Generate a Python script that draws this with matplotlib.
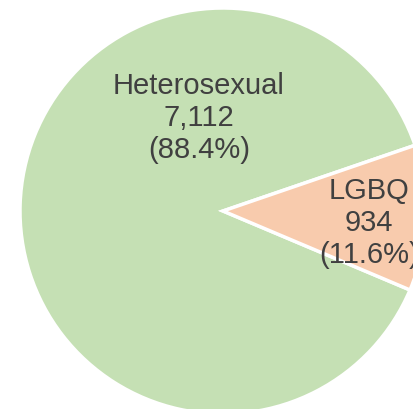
import numpy as np
import matplotlib.pyplot as plt

categories = ["Heterosexual", "LGBQ"]
counts = [7112, 934]
colors = ["#c5e0b4", "#f8cbad"]

total = sum(counts)
shares = [c / total * 100 for c in counts]
labels = [f"{cat}\n{c:,}\n({s:.1f}%)" for cat, c, s in zip(categories, counts, shares)]

fig = plt.figure(figsize=(4.13, 4.09), dpi=100)
ax = fig.add_axes([0, 0, 1, 1])

# LGBQ wedge roughly centred on 0 deg, tilted ~2 deg down
start = 180 * counts[1] / total - 2
ax.pie(counts, colors=colors, startangle=start, counterclock=True, radius=1.015,
       wedgeprops=dict(edgecolor="white", linewidth=2.5))

# label positions (fraction of radius)
# (the LGBQ label runs past the right edge in the original too)
label_pos = [(-0.12, 0.465), (0.73, -0.06)]
for lab, (x, y) in zip(labels, label_pos):
    ax.text(x, y, lab, ha="center", va="center", fontsize=21,
            family="Liberation Sans", color="#404040", linespacing=1.2)

ax.set_xlim(-1.115, 0.95)
ax.set_ylim(-0.99, 1.055)
ax.set_aspect("equal")
ax.axis("off")

fig.savefig("out.png", dpi=100)
